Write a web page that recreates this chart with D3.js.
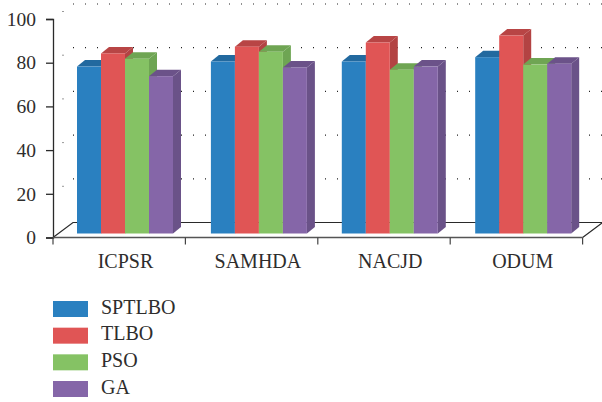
<!DOCTYPE html>
<html><head><meta charset="utf-8">
<script src="https://cdn.jsdelivr.net/npm/d3@7"></script>
<style>html,body{margin:0;padding:0;background:#fff}svg{display:block}text{font-family:"Liberation Serif",serif;fill:#2e2d2c}</style>
</head><body><svg id="c" width="602" height="402"></svg>
<script>
const categories = ["ICPSR","SAMHDA","NACJD","ODUM"];
const seriesNames = ["SPTLBO","TLBO","PSO","GA"];
const SPTLBO = [76.4,78.7,78.7,80.7];
const TLBO = [82.4,85.5,87.4,90.6];
const PSO = [80,83.2,75,77.3];
const GA = [72,76,76.4,77.7];
const yTicks = [0,20,40,60,80,100];
const seriesValues = [SPTLBO,TLBO,PSO,GA];
const faceColors = ["#2a80c0","#e05555","#85c264","#8566a8"];
const topColors = ["#22699f","#b84545","#6fa553","#6b5289"];
const sideColors = ["#2a6ea3","#b34343","#6ea553","#6a5288"];

const svg = d3.select("#c");
const x = d3.scaleBand().domain(categories).range([53,582.6]);
const y = d3.scaleLinear().domain([0,100]).range([237.5,19]);
const inner = d3.scaleBand().domain(seriesNames).range([24,120]);
const wallDx = 20, wallDy = -15, baseDy = -4, depthDx = 8, depthDy = -6.5;
const groupNudge = [0,1.5,0,1];

// grid dots
const grid = svg.append("g");
yTicks.slice(1).forEach(t=>{
  grid.append("line").attr("x1",x.range()[0]+wallDx).attr("x2",x.range()[1]+wallDx)
    .attr("y1",y(t)+wallDy).attr("y2",y(t)+wallDy)
    .attr("stroke","#222").attr("stroke-width",1.2).attr("stroke-dasharray","1 11");
  grid.append("line").attr("x1",x.range()[0]+wallDx/2-0.5).attr("x2",x.range()[0]+wallDx/2+0.5)
    .attr("y1",y(t)+wallDy/2).attr("y2",y(t)+wallDy/2)
    .attr("stroke","#333").attr("stroke-width",1);
});

// floor
const [x0,x1] = x.range();
svg.append("path").attr("fill","none").attr("stroke","#2a2a2a").attr("stroke-width",1.2)
  .attr("d",d3.line()([[x0,y(0)],[x0+wallDx,y(0)+wallDy],[x1+wallDx,y(0)+wallDy],[x1,y(0)]]));

// axes
const yAxis = d3.axisLeft(y).tickValues(yTicks).tickSize(7).tickPadding(10).tickFormat(d3.format("d"));
const gy = svg.append("g").attr("transform",`translate(${x0},0)`).call(yAxis);
gy.selectAll("path,line").attr("stroke","#2a2a2a").attr("stroke-width",1.3);
gy.selectAll("text").attr("font-size",19.5).attr("fill","#2e2d2c");
gy.attr("font-family",null);

const xTicks = categories.map(c=>x(c)).concat([x1]);
const gx = svg.append("g");
gx.append("line").attr("x1",x0).attr("x2",x1).attr("y1",y(0)).attr("y2",y(0)).attr("stroke","#555").attr("stroke-width",1.5);
gx.selectAll("line.t").data(xTicks).join("line").attr("class","t")
  .attr("x1",d=>d).attr("x2",d=>d).attr("y1",y(0)).attr("y2",y(0)+7).attr("stroke","#444").attr("stroke-width",1.2);

// bars
categories.forEach((c,ci)=>{
  const g = svg.append("g");
  seriesNames.forEach((s,si)=>{
    const v = seriesValues[si][ci];
    const l = x(c)+inner(s)+groupNudge[ci], r = l+inner.bandwidth();
    const t = y(v)+baseDy, b = y(0)+baseDy;
    const line = d3.line();
    g.append("path").attr("fill",sideColors[si]).attr("d",line([[r,t],[r+depthDx,t+depthDy],[r+depthDx,b+depthDy],[r,b]])+"Z");
    g.append("path").attr("fill",topColors[si]).attr("d",line([[l,t],[l+depthDx,t+depthDy],[r+depthDx,t+depthDy],[r,t]])+"Z");
    g.append("rect").attr("x",l).attr("y",t).attr("width",r-l).attr("height",b-t).attr("fill",faceColors[si]);
  });
  svg.append("text").attr("x",x(c)+inner.range()[0]+48.5).attr("y",267.5).attr("text-anchor","middle").attr("font-size",20).text(c);
});

// legend
const legY = d3.scalePoint().domain(seriesNames).range([309,389]);
seriesNames.forEach((s,i)=>{
  svg.append("rect").attr("x",53).attr("y",legY(s)-8).attr("width",35).attr("height",16).attr("fill",faceColors[i]);
  svg.append("text").attr("x",101).attr("y",legY(s)+4.5).attr("font-size",20).text(s);
});
</script></body></html>
